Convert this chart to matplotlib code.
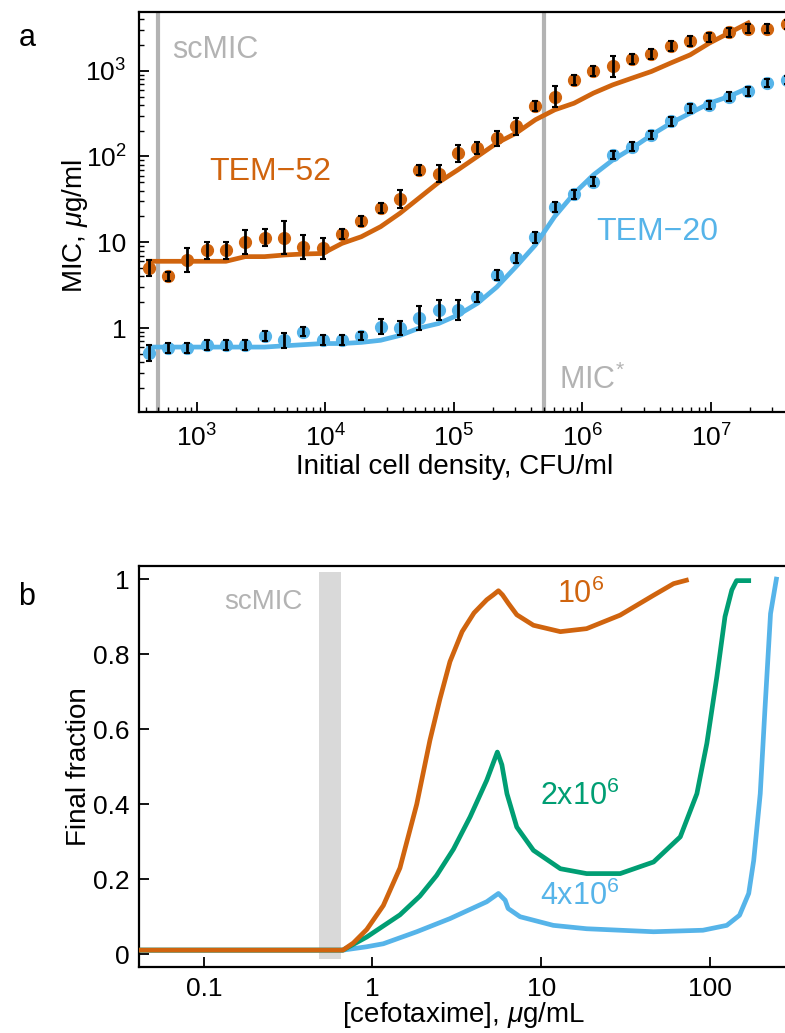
import matplotlib
matplotlib.use("Agg")
import matplotlib.pyplot as plt
import numpy as np

plt.rcParams['font.family'] = ['Liberation Sans', 'DejaVu Sans']
plt.rcParams['mathtext.fontset'] = 'custom'
plt.rcParams['mathtext.rm'] = 'Liberation Sans'
plt.rcParams['mathtext.it'] = 'Liberation Sans:italic'

ORANGE = '#D0640E'
BLUE = '#56B4E9'
GREEN = '#009E73'
GREY = '#B3B3B3'

# ---- panel a: MIC vs initial cell density (two-fold series, sqrt2 steps)
density = [420, 594, 840, 1188, 1680, 2376, 3360, 4752, 6720, 9504,
           13440, 19008, 26880, 38016, 53760, 76032, 107520, 152064, 215040, 304128,
           430080, 608256, 860160, 1216512, 1720320, 2433024, 3440640, 4866048, 6881280, 9732096,
           13762560, 19464192, 27525120, 38928384]

tem52 = [5.0, 4.0, 6.2, 8.1, 8.1, 10, 11.3, 11.3, 8.9, 8.5,
         12.4, 17.7, 25, 32, 69, 63, 109, 125, 163, 224,
         388, 500, 780, 1000, 1120, 1380, 1580, 1950, 2200, 2440,
         2810, 3100, 3100, 3460]
tem52_err = [0.09, 0.05, 0.14, 0.10, 0.10, 0.14, 0.10, 0.19, 0.14, 0.12,
             0.06, 0.06, 0.06, 0.10, 0.06, 0.10, 0.10, 0.07, 0.09, 0.10,
             0.06, 0.12, 0.06, 0.06, 0.12, 0.06, 0.06, 0.06, 0.06, 0.05,
             0.05, 0.05, 0.05, 0.05]
tem52_model = [6.0, 6.0, 6.0, 6.0, 6.0, 6.8, 6.8, 7.1, 7.3, 7.4,
               9.7, 11.6, 15.2, 21.8, 33, 50, 70, 100, 143, 187,
               268, 350, 418, 548, 684, 820, 980, 1230, 1530, 2100,
               2750, 3600]

tem20 = [0.51, 0.58, 0.58, 0.63, 0.63, 0.63, 0.81, 0.72, 0.91, 0.72,
         0.72, 0.81, 1.04, 1.0, 1.30, 1.62, 1.62, 2.32, 4.15, 6.5,
         11.4, 25.6, 36.3, 51, 104, 130, 178, 256, 365, 400,
         500, 575, 716, 780]
tem20_err = [0.09, 0.06, 0.06, 0.06, 0.06, 0.06, 0.06, 0.09, 0.05, 0.06,
             0.06, 0.05, 0.09, 0.08, 0.14, 0.12, 0.12, 0.06, 0.06, 0.06,
             0.06, 0.06, 0.05, 0.05, 0.05, 0.05, 0.05, 0.05, 0.05, 0.05,
             0.05, 0.05, 0.05, 0.05]
tem20_model = [0.60, 0.60, 0.60, 0.60, 0.60, 0.60, 0.60, 0.62, 0.64, 0.66,
               0.66, 0.68, 0.72, 0.82, 1.0, 1.13, 1.42, 1.94, 3.0, 5.2,
               9.3, 20, 37, 61, 91, 125, 178, 245, 320, 418,
               500, 630]

scmic_density = 500
micstar_density = 5e5

# ---- panel b: final fraction vs cefotaxime
conc_1e6 = [0.0413, 0.668, 0.77, 0.925, 1.16, 1.455, 1.83, 2.19, 2.51, 2.88,
            3.4, 4.0, 4.76, 5.2, 5.58, 5.9, 6.4, 7.17, 9.0, 13.0,
            18.6, 29.4, 46.4, 61, 72.6]
frac_1e6 = [0.011, 0.011, 0.03, 0.066, 0.13, 0.23, 0.40, 0.57, 0.68, 0.78,
            0.86, 0.91, 0.945, 0.958, 0.969, 0.958, 0.935, 0.905, 0.877, 0.86,
            0.868, 0.904, 0.957, 0.988, 0.997]

conc_2e6 = [0.0413, 0.668, 0.925, 1.455, 1.91, 2.40, 3.02, 3.79, 4.76, 5.5,
            5.85, 6.27, 7.17, 9.0, 13, 18.6, 29.4, 46.4, 66.8, 83.8,
            96, 110, 123, 135, 144, 170]
frac_2e6 = [0.011, 0.011, 0.046, 0.105, 0.155, 0.21, 0.28, 0.366, 0.464, 0.539,
            0.505, 0.428, 0.339, 0.277, 0.228, 0.215, 0.215, 0.246, 0.313, 0.428,
            0.562, 0.739, 0.90, 0.971, 0.996, 0.996]

conc_4e6 = [0.0413, 0.668, 0.925, 1.16, 1.83, 2.88, 4.76, 5.58, 6.12, 6.37,
            7.5, 11.8, 18.6, 46.4, 91, 126, 150, 170, 182, 199,
            212, 229, 248]
frac_4e6 = [0.011, 0.011, 0.02, 0.028, 0.06, 0.095, 0.14, 0.162, 0.144, 0.122,
            0.10, 0.077, 0.068, 0.06, 0.064, 0.077, 0.104, 0.162, 0.25, 0.428,
            0.65, 0.908, 1.0]

scmic_band = (0.483, 0.65)

W, H = 785, 1033
fig = plt.figure(figsize=(W / 100, H / 100), dpi=100)

def tick_style(ax, size, pad):
    ax.tick_params(which='major', direction='in', length=7, width=1.3, labelsize=size, pad=pad,
                   top=False, right=False)
    ax.tick_params(which='minor', direction='in', length=3.5, width=1.0, top=False, right=False)
    for s in ('left', 'bottom', 'top'):
        ax.spines[s].set_linewidth(1.6)
    ax.spines['right'].set_visible(False)

# panel a
axa = fig.add_axes([139 / W, 1 - 412 / H, 1 - 139 / W, (412 - 11.5) / H])
axa.set_xscale('log')
axa.set_yscale('log')
axa.set_xlim(10 ** 2.549, 10 ** 7.576)
axa.set_ylim(0.105, 4900)
axa.axvline(scmic_density, color=GREY, lw=3, zorder=1)
axa.axvline(micstar_density, color=GREY, lw=3, zorder=1)

n_model = len(tem52_model)
axa.plot(density[:n_model], tem52_model, color=ORANGE, lw=3.4, zorder=2)
axa.plot(density[:n_model], tem20_model, color=BLUE, lw=3.4, zorder=2)

for vals, errs, col in ((tem52, tem52_err, ORANGE), (tem20, tem20_err, BLUE)):
    v = np.array(vals)
    e = np.array(errs)
    axa.plot(density, v, 'o', color=col, ms=8.5, zorder=3, clip_on=False)
    axa.errorbar(density, v, yerr=[v - v / 10 ** e, v * 10 ** e - v], fmt='none',
                 ecolor='black', elinewidth=2, capsize=2, capthick=1.5, zorder=4)

axa.set_yticks([1, 10, 100, 1000])
axa.set_yticklabels(['1', '10', '$10^2$', '$10^3$'])
axa.set_xticks([1e3, 1e4, 1e5, 1e6, 1e7])
axa.set_xticklabels(['$10^3$', '$10^4$', '$10^5$', '$10^6$', '$10^7$'])
axa.xaxis.set_minor_locator(matplotlib.ticker.LogLocator(base=10, subs=np.arange(2, 10), numticks=20))
axa.yaxis.set_minor_locator(matplotlib.ticker.LogLocator(base=10, subs=np.arange(2, 10), numticks=20))
axa.xaxis.set_minor_formatter(matplotlib.ticker.NullFormatter())
axa.yaxis.set_minor_formatter(matplotlib.ticker.NullFormatter())
tick_style(axa, 19, 9)

axa.set_xlabel('Initial cell density, CFU/ml', fontsize=20)
axa.set_ylabel('MIC, $\\mathit{\\mu}$g/ml', fontsize=20)
axa.xaxis.set_label_coords(0.489, -0.105)
axa.yaxis.set_label_coords(-0.076, 0.465)

axa.text(640, 1754, 'scMIC', color=GREY, fontsize=22, ha='left', va='center')
axa.text(3700, 66, 'TEM\u221252', color=ORANGE, fontsize=23, ha='center', va='center')
axa.text(3.8e6, 13.2, 'TEM\u221220', color=BLUE, fontsize=23, ha='center', va='center')
axa.text(6.56e5, 0.247, 'MIC$^{*}$', color=GREY, fontsize=22, ha='left', va='center')

# panel b
axb = fig.add_axes([139 / W, 1 - 967 / H, 1 - 139 / W, (967 - 566) / H])
axb.set_xscale('log')
axb.set_xlim(0.0413, 279)
axb.set_ylim(-0.034, 1.035)
axb.axvspan(scmic_band[0], scmic_band[1], ymin=0.02, ymax=0.985, color='#D9D9D9', lw=0, zorder=1)
axb.plot(conc_4e6, frac_4e6, color=BLUE, lw=3.4, zorder=2)
axb.plot(conc_2e6, frac_2e6, color=GREEN, lw=3.4, zorder=3)
axb.plot(conc_1e6, frac_1e6, color=ORANGE, lw=3.4, zorder=4)

axb.set_xticks([0.1, 1, 10, 100])
axb.set_xticklabels(['0.1', '1', '10', '100'])
axb.xaxis.set_minor_locator(matplotlib.ticker.NullLocator())
axb.set_yticks([0, 0.2, 0.4, 0.6, 0.8, 1])
axb.set_yticklabels(['0', '0.2', '0.4', '0.6', '0.8', '1'])
tick_style(axb, 19, 7)

axb.set_xlabel('[cefotaxime], $\\mathit{\\mu}$g/mL', fontsize=20)
axb.set_ylabel('Final fraction', fontsize=20)
axb.xaxis.set_label_coords(0.503, -0.083)
axb.yaxis.set_label_coords(-0.072, 0.5)

axb.text(0.383, 0.94, 'scMIC', color=GREY, fontsize=20, ha='right', va='center')
axb.text(17.1, 0.96, '$10^6$', color=ORANGE, fontsize=22, ha='center', va='center')
axb.text(17.0, 0.42, '2x$10^6$', color=GREEN, fontsize=22, ha='center', va='center')
axb.text(17.0, 0.155, '4x$10^6$', color=BLUE, fontsize=22, ha='center', va='center')

fig.text(27 / W, 1 - 38 / H, 'a', fontsize=22, ha='center', va='center')
fig.text(27 / W, 1 - 597 / H, 'b', fontsize=22, ha='center', va='center')

fig.savefig('out.png', dpi=100)
